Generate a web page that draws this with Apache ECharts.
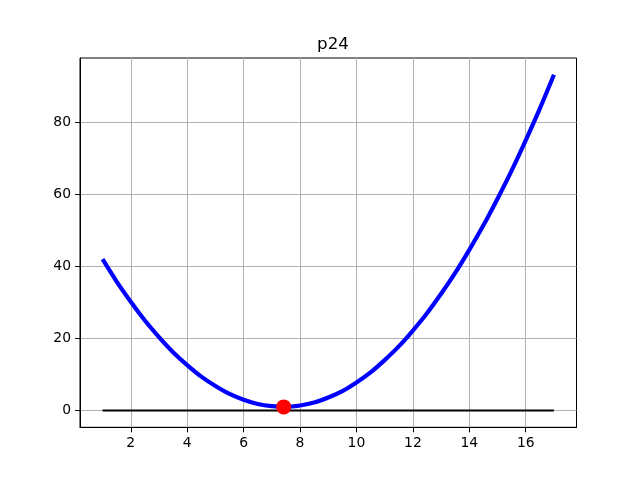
<!DOCTYPE html>
<html>
<head>
<meta charset="utf-8">
<script src="https://cdn.jsdelivr.net/npm/echarts@6/dist/echarts.min.js"></script>
<style>html,body{margin:0;padding:0;background:#fff;}#c{width:640px;height:480px;}</style>
</head>
<body>
<div id="c"></div>
<script>
const xVals = [1,1.5,2,2.5,3,3.5,4,4.5,5,5.5,6,6.5,7,7.5,8,8.5,9,9.5,10,10.5,11,11.5,12,12.5,13,13.5,14,14.5,15,15.5,16,16.5,17];
const yVals = [42.0,35.8,30.2,25.0,20.4,16.2,12.6,9.4,6.8,4.6,3.0,1.8,1.2,1.0,1.4,2.2,3.6,5.4,7.8,10.6,14.0,17.8,22.2,27.0,32.4,38.2,44.6,51.4,58.8,66.6,75.0,83.8,93.2];
const baseX = [1, 17];
const baseY = [0, 0];
const minPoint = [7.42, 1.0];
const xTicks = [2,4,6,8,10,12,14,16];
const yTicks = [0,20,40,60,80];
const titleText = 'p24';

const font = 'DejaVu Sans';
const chart = echarts.init(document.getElementById('c'), null, {renderer: 'canvas'});
chart.setOption({
  animation: false,
  backgroundColor: '#ffffff',
  title: {
    text: titleText, left: 328, top: 31, textAlign: 'center',
    textStyle: {fontFamily: font, fontSize: 16.7, fontWeight: 'normal', color: '#000'}
  },
  grid: {left: 80, right: 63.5, top: 58, bottom: 52.7, show: true, borderColor: '#000', borderWidth: 1, backgroundColor: 'transparent'},
  xAxis: {
    type: 'value', min: 0.2, max: 17.8,
    axisLine: {show: true, onZero: false, lineStyle: {color: '#000', width: 1}},
    axisTick: {show: true, length: 5, customValues: xTicks, lineStyle: {color: '#000'}},
    axisLabel: {customValues: xTicks, margin: 9, fontFamily: font, fontSize: 13.9, color: '#000'},
    splitLine: {show: true, customValues: xTicks, lineStyle: {color: '#b0b0b0', width: 1}}
  },
  yAxis: {
    type: 'value', min: -4.66, max: 97.86,
    axisLine: {show: true, onZero: false, lineStyle: {color: '#000', width: 1}},
    axisTick: {show: true, length: 5, customValues: yTicks, lineStyle: {color: '#000'}},
    axisLabel: {customValues: yTicks, margin: 9, fontFamily: font, fontSize: 13.9, color: '#000'},
    splitLine: {show: true, customValues: yTicks, lineStyle: {color: '#b0b0b0', width: 1}}
  },
  series: [
    {type: 'line', data: xVals.map((x, i) => [x, yVals[i]]), smooth: 0.3, showSymbol: false,
     lineStyle: {color: '#0000ff', width: 4.2}, z: 3},
    {type: 'line', data: baseX.map((x, i) => [x, baseY[i]]), showSymbol: false,
     lineStyle: {color: '#000', width: 2}, z: 2},
    {type: 'scatter', data: [minPoint], symbolSize: 15, itemStyle: {color: '#ff0000', opacity: 1}, z: 5}
  ]
});
</script>
</body>
</html>
